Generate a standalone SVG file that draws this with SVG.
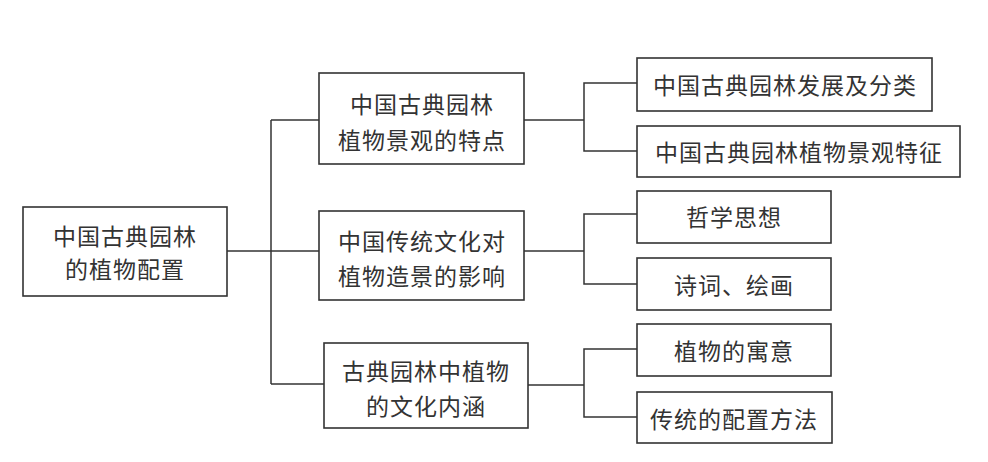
<svg xmlns="http://www.w3.org/2000/svg" width="988" height="462" viewBox="0 0 988 462">
<style>
.box{fill:#fff;stroke:#333;stroke-width:1.6}
.t{font-family:"Noto Sans CJK SC","Noto Sans CJK TC",sans-serif;font-size:23px;fill:#333;text-anchor:middle;dominant-baseline:central;letter-spacing:1px}
.c{fill:none;stroke:#333;stroke-width:1.5}
</style>
<rect width="988" height="462" fill="#fff"/>
<g id="connectors" class="c">
<path d="M227,251 H319"/>
<path d="M271,120 V384"/>
<path d="M271,120 H319"/>
<path d="M271,384 H324"/>
<path d="M524,120 H584"/>
<path d="M637,83 H584 V151 H637"/>
<path d="M524,251 H584"/>
<path d="M637,214 H584 V284 H637"/>
<path d="M528,385 H584"/>
<path d="M637,349 H584 V417 H637"/>
</g>
<g id="root">
<rect class="box" x="23" y="207" width="204" height="89"/>
<text class="t" x="125" y="235">中国古典园林</text>
<text class="t" x="125" y="268">的植物配置</text>
</g>
<g id="mid1">
<rect class="box" x="319" y="73" width="205" height="91"/>
<text class="t" x="422" y="103">中国古典园林</text>
<text class="t" x="422" y="139">植物景观的特点</text>
</g>
<g id="mid2">
<rect class="box" x="319" y="211" width="205" height="89"/>
<text class="t" x="422" y="240">中国传统文化对</text>
<text class="t" x="422" y="275">植物造景的影响</text>
</g>
<g id="mid3">
<rect class="box" x="324" y="343" width="204" height="85"/>
<text class="t" x="426" y="370">古典园林中植物</text>
<text class="t" x="426" y="405">的文化内涵</text>
</g>
<g id="leaf1">
<rect class="box" x="637" y="58" width="295" height="53"/>
<text class="t" x="785" y="84">中国古典园林发展及分类</text>
</g>
<g id="leaf2">
<rect class="box" x="637" y="126" width="323" height="51"/>
<text class="t" x="799" y="151">中国古典园林植物景观特征</text>
</g>
<g id="leaf3">
<rect class="box" x="637" y="191" width="194" height="52"/>
<text class="t" x="734" y="216">哲学思想</text>
</g>
<g id="leaf4">
<rect class="box" x="637" y="258" width="194" height="52"/>
<text class="t" x="734" y="284">诗词、绘画</text>
</g>
<g id="leaf5">
<rect class="box" x="637" y="324" width="194" height="52"/>
<text class="t" x="734" y="350">植物的寓意</text>
</g>
<g id="leaf6">
<rect class="box" x="637" y="392" width="195" height="51"/>
<text class="t" x="734" y="418">传统的配置方法</text>
</g>
</svg>
